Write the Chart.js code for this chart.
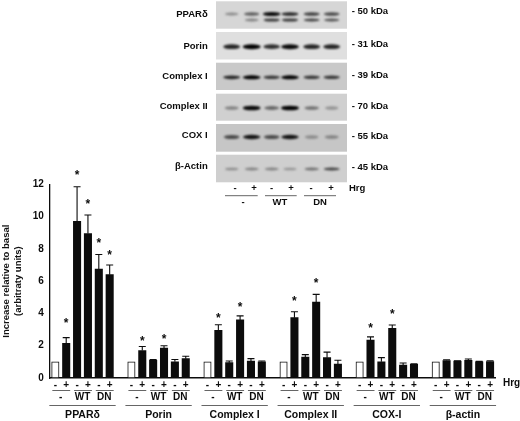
<!DOCTYPE html>
<html><head><meta charset="utf-8">
<style>html,body{margin:0;padding:0;background:#fff}canvas{display:block}</style>
<script src="https://cdn.jsdelivr.net/npm/chart.js@4"></script>
</head><body><canvas id="c" width="520" height="421"></canvas>
<script>
const proteinNames = ['PPARδ','Porin','Complex I','Complex II','COX-I','β-actin'];
const hrgLabels = ['-','+','-','+','-','+'];
const constructLabels = ['-','WT','DN'];
const ppar = [1,2.15,9.7,8.95,6.75,6.4];
const porin = [1,1.7,1.1,1.85,1.0,1.2];
const complex1 = [1,2.95,0.95,3.6,1.05,1.0];
const complex2 = [1,3.74,1.3,4.7,1.26,0.87];
const cox1 = [1,2.35,1.0,3.08,0.8,0.85];
const actin = [1,1.08,1.05,1.1,1.0,1.02];
const pparTop = [null,2.5,11.85,10.1,7.65,7.0];
const porinTop = [null,1.95,1.15,2.0,1.15,1.35];
const complex1Top = [null,3.3,1.05,3.85,1.2,1.05];
const complex2Top = [null,4.1,1.45,5.18,1.6,1.1];
const cox1Top = [null,2.55,1.26,3.28,0.93,0.88];
const actinTop = [null,1.13,1.07,1.18,1.03,1.07];
const pparStars = [null,3.5,12.7,10.9,8.47,7.75];
const porinStars = [null,2.38,null,2.54,null,null];
const complex1Stars = [null,3.86,null,4.5,null,null];
const complex2Stars = [null,4.86,null,5.97,null,null];
const cox1Stars = [null,3.22,null,4.05,null,null];
const actinStars = [null,null,null,null,null,null];
const blotNames = ['PPARδ','Porin','Complex I','Complex II','COX I','β-Actin'];
const blotSizes = ['- 50 kDa','- 31 kDa','- 39 kDa','- 70 kDa','- 55 kDa','- 45 kDa'];
const bandsPpar = [.25,.5,.95,.8,.65,.6];
const bandsPparLower = [0,.3,.7,.7,.65,.55];
const bandsPorin = [.8,1,.75,.95,.8,.8];
const bandsComplex1 = [.8,1,.7,1,.7,.7];
const bandsComplex2 = [.3,.95,.45,1,.4,.2];
const bandsCox1 = [.6,.9,.6,.9,.25,.3];
const bandsActin = [.25,.3,.3,.2,.4,.65];

function joinGroups(groups){const out=[];groups.forEach((g,i)=>{out.push(...g);if(i<groups.length-1)out.push(null);});return out;}
const values = joinGroups([ppar,porin,complex1,complex2,cox1,actin]);
const tops = joinGroups([pparTop,porinTop,complex1Top,complex2Top,cox1Top,actinTop]);
const stars = joinGroups([pparStars,porinStars,complex1Stars,complex2Stars,cox1Stars,actinStars]);
const labels = joinGroups(proteinNames.map(()=>hrgLabels)).map(v=>v===null?'':v);
const INK='#0c0c0c';
const FONT='"Liberation Sans",Arial,sans-serif';

const overlay={id:'overlay',
 beforeDraw(chart){const c=chart.ctx;c.save();c.fillStyle='#fff';c.fillRect(0,0,520,421);
  drawBlots(c);c.restore();},
 afterDatasetsDraw(chart){
  const c=chart.ctx,x=chart.scales.x,y=chart.scales.y;c.save();
  c.strokeStyle=INK;c.fillStyle=INK;c.lineWidth=1.1;
  tops.forEach((t,i)=>{if(t===null)return;const px=x.getPixelForValue(i),p0=y.getPixelForValue(values[i]),p1=y.getPixelForValue(t);
    c.beginPath();c.moveTo(px,p0);c.lineTo(px,p1);c.moveTo(px-3.5,p1);c.lineTo(px+3.5,p1);c.stroke();});
  c.textAlign='center';c.textBaseline='middle';
  c.font='bold 12px '+FONT;
  stars.forEach((s,i)=>{if(s===null)return;c.fillText('*',x.getPixelForValue(i),y.getPixelForValue(s)+2.5);});
  c.lineWidth=1;c.strokeStyle='#666';
  proteinNames.forEach((name,g)=>{
    const start=g*7;
    const xs=k=>x.getPixelForValue(start+k);
    c.font='bold 10px '+FONT;
    constructLabels.forEach((lab,k)=>{
      const a=xs(k*2)-3,b=xs(k*2+1)+4;
      c.beginPath();c.moveTo(a,390.5);c.lineTo(b,390.5);c.stroke();
      c.fillText(lab,(a+b)/2-0.5,397.5);
    });
    c.beginPath();c.moveTo(xs(0)-6,405.5);c.lineTo(xs(5)+6,405.5);c.stroke();
    c.font='bold 10.5px '+FONT;
    c.fillText(name,(xs(0)+xs(5))/2,415);
  });
  c.font='bold 10px '+FONT;c.textAlign='left';c.fillText('Hrg',503,383.5);
  c.restore();
 }};

function drawBlots(c){
 const laneX=[231.7,251.7,271.7,290,311.7,331.7];
 const panels=[
  {y:1.3,h:27.4,bg:'#d6d6d6',bands:[[bandsPpar,14,2.6],[bandsPparLower,20,2.2]]},
  {y:32,h:27.5,bg:'#dfdfdf',bands:[[bandsPorin,46.7,3.6]]},
  {y:62.7,h:27.3,bg:'#c9c9c9',bands:[[bandsComplex1,77.3,2.6]]},
  {y:93.7,h:27,bg:'#d0d0d0',bands:[[bandsComplex2,108,3.2]]},
  {y:124,h:27.7,bg:'#c6c6c6',bands:[[bandsCox1,137,3.2]]},
  {y:154.7,h:27.6,bg:'#cfcfcf',bands:[[bandsActin,169,2.2]]}];
 panels.forEach(p=>{
  c.fillStyle=p.bg;c.fillRect(216,p.y,131,p.h);
  c.save();c.beginPath();c.rect(216,p.y,131,p.h);c.clip();
  c.filter='blur(0.8px)';
  p.bands.forEach(([vals,by,bh])=>vals.forEach((v,i)=>{
    if(!v)return;
    const g=Math.round(185*(1-v));
    c.fillStyle=`rgb(${g},${g},${g})`;
    const w=6+3*v,h=bh*(0.65+0.5*v);
    c.beginPath();c.ellipse(laneX[i],by,w,h/2+.5,0,0,Math.PI*2);c.fill();
  }));
  c.restore();
 });
 c.fillStyle=INK;c.textBaseline='middle';c.font='bold 9.5px '+FONT;
 const ly=[14.7,46,76,106.7,135,166],ky=[11,44,75,106,136,167.7];
 c.textAlign='right';blotNames.forEach((t,i)=>c.fillText(t,207.7,ly[i]));
 c.textAlign='left';blotSizes.forEach((t,i)=>c.fillText(t,351.7,ky[i]));
 c.textAlign='center';
 hrgLabels.forEach((t,i)=>c.fillText(t,[235,254,271.7,291,311,331][i],188.5));
 c.textAlign='left';c.fillText('Hrg',349,188.5);c.textAlign='center';
 c.strokeStyle='#666';c.lineWidth=1;
 [[225,257.7,243],[265,296.7,280],[304,336,320]].forEach((s,i)=>{
  c.beginPath();c.moveTo(s[0],195.7);c.lineTo(s[1],195.7);c.stroke();
  c.fillText(constructLabels[i],s[2],202);
 });
}

new Chart(document.getElementById('c'),{
 type:'bar',
 data:{labels,datasets:[{data:values,
   backgroundColor:values.map((v,i)=>i%7===0?'#fff':INK),
   borderColor:INK,borderWidth:values.map((v,i)=>i%7===0?1:0),
   barThickness:7.4,borderSkipped:false}]},
 options:{responsive:false,animation:false,
  layout:{padding:{left:0,right:24.5,top:184.3,bottom:0}},
  plugins:{legend:{display:false},tooltip:{enabled:false}},
  scales:{
   x:{offset:true,grid:{display:false,drawTicks:false},border:{color:INK,width:1.6},
      afterFit(s){s.height=43;},
      ticks:{autoSkip:false,maxRotation:0,minRotation:0,color:INK,padding:1,font:{family:FONT,size:10,weight:'bold'}}},
   y:{min:0,max:12,grid:{display:false,drawTicks:true,tickLength:4,tickColor:INK},border:{color:INK,width:1.3},
      afterFit(s){s.width=49.9;},
      ticks:{stepSize:2,color:INK,padding:2,font:{family:FONT,size:10,weight:'bold'}},
      title:{display:true,text:['Increase relative to basal','(arbitraty units)'],color:'#111',padding:{top:0,bottom:3},font:{family:FONT,size:9.5,weight:'bold',lineHeight:1.3}}}
  }},
 plugins:[overlay]});
</script></body></html>
